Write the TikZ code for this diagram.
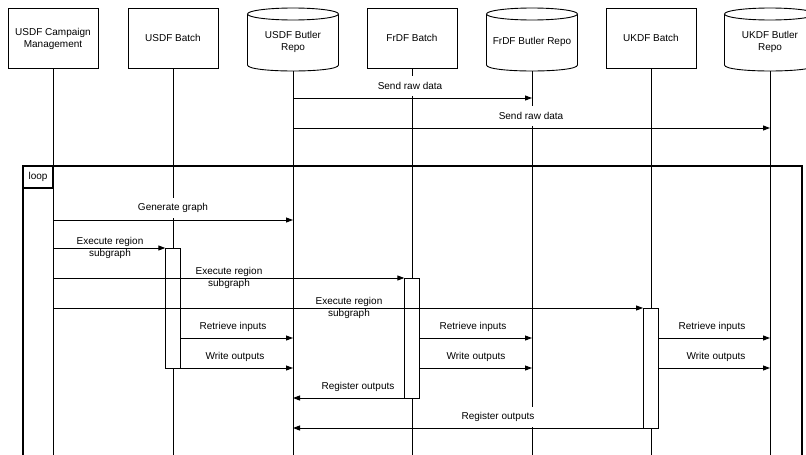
\documentclass[tikz,border=0pt]{standalone}
\usepackage{fontspec}
\setmainfont{Liberation Sans}
\usetikzlibrary{arrows.meta}
\begin{document}
\begin{tikzpicture}[x=1pt,y=-1pt,
  line width=0.9pt,
  every node/.style={font=\fontsize{10}{12}\selectfont, align=center, inner sep=0pt},
  hdr/.style={draw, fill=white, minimum width=90pt, minimum height=60pt},
  lifeline/.style={line width=0.8pt},
  act/.style={draw, fill=white, minimum width=14.5pt},
  msg/.style={-{Triangle[length=7pt,width=5pt]}},
  lbl/.style={fill=white, inner xsep=2pt, minimum height=20pt},
  lbltwo/.style={},
  frame/.style={line width=2.6pt},
]
\useasboundingbox (0,0) rectangle (806,455);
\clip (0,0) rectangle (806,455);

% lifelines
\foreach \lx/\ly in {53/68, 173/68, 293/71, 412/68, 532/71, 651/68, 770/71}
  \draw[lifeline] (\lx,\ly) -- (\lx,470);

% header boxes
\node[hdr] (cm) at (53,38) {};
\node (cmt) at (53,39) {USDF Campaign\\Management};
\node[hdr] (ub) at (173,38) {USDF Batch};
\node[hdr] (fb) at (412,38) {FrDF Batch};
\node[hdr] (kb) at (651,38) {UKDF Batch};

% cylinders
\foreach \cx/\nm/\txt in {293/ur/{USDF Butler\\Repo}, 532/fr/{FrDF Butler Repo}, 770/kr/{UKDF Butler\\Repo}}{
  \draw[fill=white] (\cx-45.5,14) -- (\cx-45.5,65)
     .. controls (\cx-45.5,73) and (\cx+45.5,73) .. (\cx+45.5,65) -- (\cx+45.5,14);
  \draw[fill=white] (\cx,14) ellipse [x radius=45.5pt, y radius=6pt];
  \node (\nm) at (\cx,42) {\txt};
}

% loop frame
\draw[frame] (23,470) -- (23,166) -- (802,166) -- (802,470);
\node[draw, frame, minimum width=30pt, minimum height=22pt] (looptag) at (38,177) {loop};

% activations
\node[act, minimum height=120pt] (a1) at (173,308) {};
\node[act, minimum height=120pt] (a2) at (412,338) {};
\node[act, minimum height=120pt] (a3) at (650.75,368) {};

% message end points
\coordinate (s1a) at (293,98);  \coordinate (s1b) at (532,98);
\coordinate (s2a) at (293,128); \coordinate (s2b) at (770,128);
\coordinate (g1a) at (53,220);  \coordinate (g1b) at (293,220);
\coordinate (e1a) at (53,248);
\coordinate (e2a) at (53,278);
\coordinate (e3a) at (53,308);
\coordinate (r1b) at (293,338); \coordinate (w1b) at (293,368);
\coordinate (r2b) at (532,338); \coordinate (w2b) at (532,368);
\coordinate (r3b) at (770,338); \coordinate (w3b) at (770,368);
\coordinate (x1b) at (293,398); \coordinate (x2b) at (293,428);

% labels
\node[lbl] (l1) at (410,86) {Send raw data};
\node[lbl] (l2) at (531,116) {Send raw data};
\node[lbl] (l3) at (173,208) {Generate graph};
\node[lbltwo] (l4) at (110,248) {Execute region\\subgraph};
\node[lbltwo] (l5) at (229,278) {Execute region\\subgraph};
\node[lbltwo] (l6) at (349,308) {Execute region\\subgraph};
\node[lbl] (l7) at (233,327) {Retrieve inputs};
\node[lbl] (l8) at (235,357) {Write outputs};
\node[lbl] (l9) at (473,327) {Retrieve inputs};
\node[lbl] (l10) at (476,357) {Write outputs};
\node[lbl] (l11) at (712,327) {Retrieve inputs};
\node[lbl] (l12) at (716,357) {Write outputs};
\node[lbl] (l13) at (358,387) {Register outputs};
\node[lbl] (l14) at (498,417) {Register outputs};

% messages
\draw[msg] (s1a) -- (s1b);
\draw[msg] (s2a) -- (s2b);
\draw[msg] (g1a) -- (g1b);
\draw[msg] (e1a) -- (e1a -| a1.west);
\draw[msg] (e2a) -- (e2a -| a2.west);
\draw[msg] (e3a) -- (e3a -| a3.west);
\draw[msg] (r1b -| a1.east) -- (r1b);
\draw[msg] (w1b -| a1.east) -- (w1b);
\draw[msg] (r2b -| a2.east) -- (r2b);
\draw[msg] (w2b -| a2.east) -- (w2b);
\draw[msg] (r3b -| a3.east) -- (r3b);
\draw[msg] (w3b -| a3.east) -- (w3b);
\draw[msg] (x1b -| a2.west) -- (x1b);
\draw[msg] (x2b -| a3.west) -- (x2b);
\end{tikzpicture}
\end{document}
